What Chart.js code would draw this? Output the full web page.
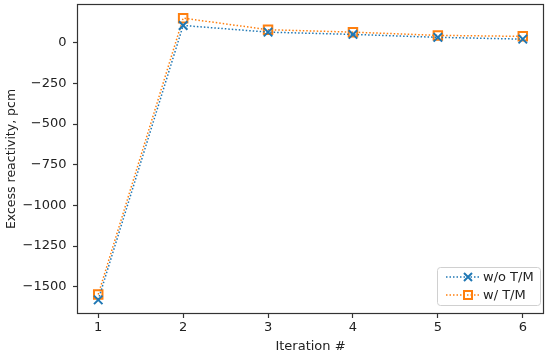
<!DOCTYPE html>
<html>
<head>
<meta charset="utf-8">
<script src="https://cdn.jsdelivr.net/npm/chart.js@4/dist/chart.umd.min.js"></script>
<style>
  html, body { margin: 0; padding: 0; background: #fff; }
  #wrap { width: 550px; height: 358px; }
</style>
</head>
<body>
<div id="wrap"><canvas id="reactChart"></canvas></div>
<script>
const iterations = [1, 2, 3, 4, 5, 6];
const withoutTM = [-1581, 106, 65, 51, 33, 22];
const withTM = [-1548, 151, 80, 65, 45, 39];
const xTicks = [1, 2, 3, 4, 5, 6];
const yTicks = [-1500, -1250, -1000, -750, -500, -250, 0];

const blue = '#1f77b4';
const orange = '#ff7f0e';
const font = "'DejaVu Sans', sans-serif";

function toPoints(vals) {
    return iterations.map((x, i) => ({ x: x, y: vals[i] }));
}

// frame round the plot area, like matplotlib's spines
const framePlugin = {
    id: 'frame',
    afterDraw(chart) {
        const a = chart.chartArea;
        const ctx = chart.ctx;
        ctx.save();
        ctx.strokeStyle = '#333';
        ctx.lineWidth = 1.2;
        ctx.strokeRect(a.left + 0.5, a.top + 0.5, a.right - a.left - 1, a.bottom - a.top - 1);
        ctx.restore();
    }
};

// legend drawn inside the lower right corner
const insideLegend = {
    id: 'insideLegend',
    afterDraw(chart) {
        const a = chart.chartArea;
        const ctx = chart.ctx;
        const w = 103, h = 38;
        const x0 = a.right - 107, y0 = a.bottom - 47;
        ctx.save();
        ctx.fillStyle = 'rgba(255,255,255,0.85)';
        ctx.strokeStyle = '#d0d0d0';
        ctx.lineWidth = 1;
        ctx.beginPath();
        ctx.roundRect(x0 + 0.5, y0 + 0.5, w, h, 3);
        ctx.fill();
        ctx.stroke();
        chart.data.datasets.forEach((ds, i) => {
            const cy = y0 + 10 + i * 18;
            const mx = x0 + 31;
            ctx.strokeStyle = ds.borderColor;
            ctx.lineWidth = 1.5;
            ctx.setLineDash([1.5, 2]);
            ctx.beginPath();
            ctx.moveTo(x0 + 9, cy);
            ctx.lineTo(x0 + 43, cy);
            ctx.stroke();
            ctx.setLineDash([]);
            ctx.lineWidth = 2;
            const s = 4;
            ctx.beginPath();
            if (ds.pointStyle === 'crossRot') {
                ctx.moveTo(mx - s, cy - s); ctx.lineTo(mx + s, cy + s);
                ctx.moveTo(mx + s, cy - s); ctx.lineTo(mx - s, cy + s);
            } else {
                ctx.rect(mx - s, cy - s, 2 * s, 2 * s);
            }
            ctx.stroke();
            ctx.fillStyle = '#222';
            ctx.font = '13px ' + font;
            ctx.textBaseline = 'middle';
            ctx.fillText(ds.label, x0 + 46, cy + 1);
        });
        ctx.restore();
    }
};

const ctx = document.getElementById('reactChart').getContext('2d');
new Chart(ctx, {
    type: 'line',
    data: {
        datasets: [
            {
                label: 'w/o T/M',
                data: toPoints(withoutTM),
                borderColor: blue,
                backgroundColor: blue,
                borderWidth: 1.5,
                borderDash: [1.5, 2],
                pointStyle: 'crossRot',
                pointRadius: 6,
                pointBorderWidth: 2,
                pointHoverRadius: 6
            },
            {
                label: 'w/ T/M',
                data: toPoints(withTM),
                borderColor: orange,
                backgroundColor: 'rgba(0,0,0,0)',
                borderWidth: 1.5,
                borderDash: [1.5, 2],
                pointStyle: 'rect',
                pointRadius: 6,
                pointBorderWidth: 2,
                pointHoverRadius: 6
            }
        ]
    },
    options: {
        responsive: true,
        maintainAspectRatio: false,
        animation: false,
        layout: { autoPadding: false, padding: { top: 4, right: 6, left: 0, bottom: 0 } },
        plugins: {
            legend: { display: false },
            tooltip: { enabled: false }
        },
        scales: {
            x: {
                type: 'linear',
                min: 0.75,
                max: 6.25,
                afterBuildTicks(axis) { axis.ticks = xTicks.map(v => ({ value: v })); },
                afterFit(axis) { axis.height = 44; },
                grid: { drawOnChartArea: false, drawTicks: true, tickLength: 4, tickColor: '#333', tickWidth: 1.2 },
                border: { display: false },
                ticks: { color: '#222', font: { family: font, size: 13 }, padding: 2 },
                title: { display: true, text: 'Iteration #', color: '#222', font: { family: font, size: 13 }, padding: { top: 0 } }
            },
            y: {
                min: -1668,
                max: 238,
                afterBuildTicks(axis) { axis.ticks = yTicks.map(v => ({ value: v })); },
                afterFit(axis) { axis.width = 77; },
                grid: { drawOnChartArea: false, drawTicks: true, tickLength: 4, tickColor: '#333', tickWidth: 1.2 },
                border: { display: false },
                ticks: {
                    color: '#222',
                    // tiny lineHeight + zero padding so the top label does not push the plot down;
                    // the en space keeps the gap to the tick marks
                    font: { family: font, size: 13, lineHeight: 0.01 },
                    padding: 0,
                    callback: v => String(v).replace('-', '\u2212') + '\u2002'
                },
                title: { display: true, text: 'Excess reactivity, pcm', color: '#222', font: { family: font, size: 12.5 }, padding: { bottom: 0 } }
            }
        }
    },
    plugins: [framePlugin, insideLegend]
});
</script>
</body>
</html>
